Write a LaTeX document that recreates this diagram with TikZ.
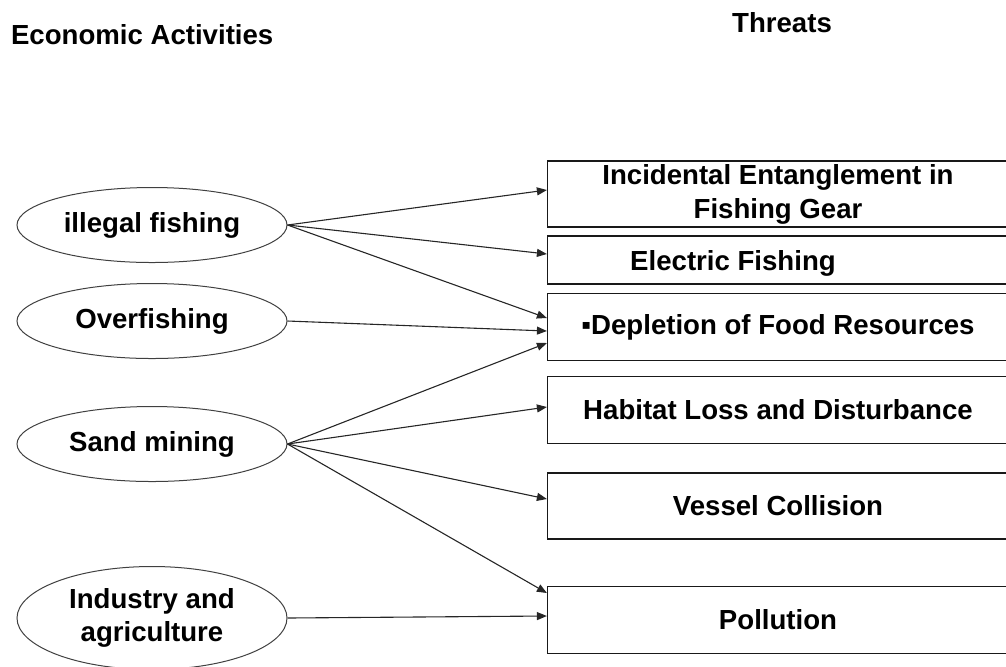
\documentclass[tikz,border=0pt]{standalone}
\usepackage{fontspec}
\setmainfont{Liberation Sans}
\usetikzlibrary{calc,arrows.meta,shapes.geometric}
\tikzset{
	activity/.style={ellipse, draw=black!75, line width=0.5pt, inner sep=0pt,
		minimum width=135pt, minimum height=37.5pt, align=center},
	threat/.style={rectangle, draw=black!90, line width=0.6pt, inner sep=0pt,
		minimum width=230.5pt, minimum height=33pt, align=center},
	arr/.style={-{Triangle[length=5pt,width=4pt]}, line width=0.55pt, color=black!85},
}

\begin{document}
\begin{tikzpicture}[x=0.5pt, y=-0.5pt, font=\fontsize{13.8}{17}\selectfont\bfseries]
		%%%%% START %%%%%
		\useasboundingbox (0, 0) rectangle (1006, 666);
		
		\node[anchor=west] (hdrAct) at (4, 35) {Economic Activities};
		\node (hdrThr) at (782, 23) {Threats};
		
		% activities
		\node[activity] (ill) at (152, 225) {\raisebox{-1.5pt}{illegal fishing}};
		\node[activity] (over) at (152, 321) {\raisebox{-1.5pt}{Overfishing}};
		\node[activity] (sand) at (152, 444) {\raisebox{-1.5pt}{Sand mining}};
		\node[activity, minimum height=51.5pt, font=\fontsize{13.8}{16.5}\selectfont\bfseries] (ind) at (152, 618) {Industry and\\agriculture};
		
		% threats
		\node[threat] (ent) at (778, 194) {Incidental Entanglement in\\Fishing Gear};
		\node[threat, minimum height=24pt] (elec) at (778, 260) {};
		\node (elecTxt) at ($(elec)+(-45, 3)$) {Electric Fishing};
		\node[threat, minimum height=33.5pt] (food) at (778, 327) {\raisebox{-1.5pt}{▪Depletion of Food Resources}};
		\node[threat, minimum height=33.5pt] (hab) at (778, 410) {\raisebox{-1.5pt}{Habitat Loss and Disturbance}};
		\node[threat] (vess) at (778, 506) {\raisebox{-1.5pt}{Vessel Collision}};
		\node[threat, minimum height=33.5pt] (poll) at (778, 620) {\raisebox{-1.5pt}{Pollution}};
		
		% links
		\draw[arr] (ill.east) -- ($(ent.west)+(0, -4)$);
		\draw[arr] (ill.east) -- ($(elec.west)+(0, -6)$);
		\draw[arr] (ill.east) -- ($(food.west)+(0, -9)$);
		\draw[arr] (over.east) -- ($(food.west)+(0, 4)$);
		\draw[arr] (sand.east) -- ($(food.west)+(0, 16)$);
		\draw[arr] (sand.east) -- ($(hab.west)+(0, -3)$);
		\draw[arr] (sand.east) -- ($(vess.west)+(0, -7)$);
		\draw[arr] (sand.east) -- ($(poll.west)+(0, -27)$);
		\draw[arr] (ind.east) -- ($(poll.west)+(0, -4)$);
		
		%%%%% END %%%%%
\end{tikzpicture}
\end{document}
